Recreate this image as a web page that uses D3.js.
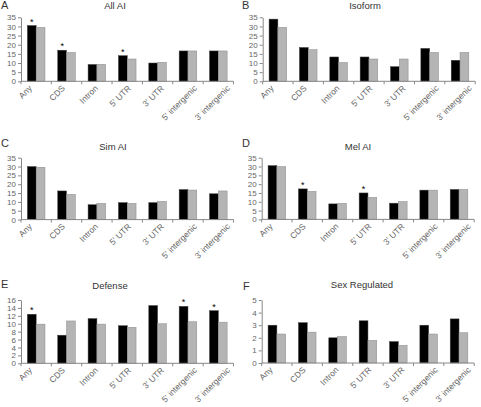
<!DOCTYPE html>
<html><head><meta charset="utf-8">
<script src="https://cdn.jsdelivr.net/npm/d3@7"></script>
<style>
body{margin:0;background:#fff}
svg{display:block}
text{font-family:"Liberation Sans",Arial,sans-serif}
</style>
</head><body>
<svg id="c" width="481" height="407"></svg>
<script>
// ---- data ----
const categories = ["Any","CDS","Intron","5' UTR","3' UTR","5' intergenic","3' intergenic"];

const allAI_black   = [30.5, 17.0, 9.2, 14.0, 10.0, 16.6, 16.6];
const allAI_gray    = [29.5, 15.8, 9.3, 12.2, 10.4, 16.6, 16.6];
const allAI_stars   = [1, 1, 0, 1, 0, 0, 0];

const isoform_black = [34.0, 18.5, 13.3, 13.3, 8.0, 18.0, 11.5];
const isoform_gray  = [29.5, 17.3, 10.3, 12.2, 12.2, 15.8, 15.8];
const isoform_stars = [0, 0, 0, 0, 0, 0, 0];

const simAI_black   = [30.0, 16.2, 8.4, 9.6, 9.6, 17.0, 14.6];
const simAI_gray    = [29.6, 14.3, 9.2, 9.2, 10.3, 16.7, 16.2];
const simAI_stars   = [0, 0, 0, 0, 0, 0, 0];

const melAI_black   = [30.5, 17.3, 8.8, 15.0, 9.2, 16.6, 17.0];
const melAI_gray    = [30.0, 15.9, 9.1, 12.5, 10.1, 16.6, 17.0];
const melAI_stars   = [0, 1, 0, 1, 0, 0, 0];

const defense_black = [12.4, 7.1, 11.3, 9.5, 14.6, 14.4, 13.3];
const defense_gray  = [9.9, 10.7, 9.9, 9.1, 10.0, 10.5, 10.4];
const defense_stars = [1, 0, 0, 0, 0, 1, 1];

const sexReg_black  = [3.0, 3.2, 2.0, 3.35, 1.7, 3.0, 3.5];
const sexReg_gray   = [2.3, 2.45, 2.1, 1.8, 1.4, 2.3, 2.4];
const sexReg_stars  = [0, 0, 0, 0, 0, 0, 0];

const ticks35 = [0, 5, 10, 15, 20, 25, 30, 35];
const ticks16 = [0, 2, 4, 6, 8, 10, 12, 14, 16];
const ticks5  = [0, 1, 2, 3, 4, 5];

const panelLetters = ["A","B","C","D","E","F"];
const panelTitles  = ["All AI","Isoform","Sim AI","Mel AI","Defense","Sex Regulated"];

// ---- layout ----
const layout = [
  {left:21,    top:17.3,  bottom:81.3,  tx:115, ty:9,   lx:1,   ly:9},
  {left:262.7, top:17.3,  bottom:81.3,  tx:365, ty:9,   lx:242, ly:9},
  {left:21,    top:157.7, bottom:219.6, tx:113, ty:150, lx:1,   ly:147},
  {left:261.7, top:157.7, bottom:219.4, tx:358, ty:150, lx:242, ly:147},
  {left:21,    top:300,   bottom:363.3, tx:110, ty:289, lx:1,   ly:288},
  {left:261.7, top:300,   bottom:363,   tx:362, ty:288, lx:243, ly:290}
];
const panelData = [
  {black:allAI_black,   gray:allAI_gray,   stars:allAI_stars,   ticks:ticks35},
  {black:isoform_black, gray:isoform_gray, stars:isoform_stars, ticks:ticks35},
  {black:simAI_black,   gray:simAI_gray,   stars:simAI_stars,   ticks:ticks35},
  {black:melAI_black,   gray:melAI_gray,   stars:melAI_stars,   ticks:ticks35},
  {black:defense_black, gray:defense_gray, stars:defense_stars, ticks:ticks16},
  {black:sexReg_black,  gray:sexReg_gray,  stars:sexReg_stars,  ticks:ticks5}
];

const svg = d3.select("#c");
const W = 212.5;

panelData.forEach((pd, i) => {
  const L = layout[i];
  const g = svg.append("g");
  const y = d3.scaleLinear().domain([0, d3.max(pd.ticks)]).range([L.bottom, L.top]);
  const x0 = d3.scaleBand().domain(categories).range([L.left, L.left + W])
               .paddingInner(0.42).paddingOuter(0.21);
  const x1 = d3.scaleBand().domain(["black","gray"]).range([0, x0.bandwidth()]);
  const xl = d3.scalePoint().domain(categories).range([L.left + 16, L.left + 214]);

  // letter + title
  g.append("text").attr("x", L.lx).attr("y", L.ly).text(panelLetters[i])
    .attr("font-size", 11).attr("fill", "#333");
  g.append("text").attr("x", L.tx).attr("y", L.ty).text(panelTitles[i])
    .attr("font-size", 9.5).attr("text-anchor", "middle").attr("fill", "#333");

  // bars
  const rows = categories.map((c, k) => ({c, b: pd.black[k], gr: pd.gray[k], s: pd.stars[k]}));
  g.selectAll(".bb").data(rows).join("rect")
    .attr("x", d => x0(d.c) + x1("black")).attr("width", x1.bandwidth())
    .attr("y", d => y(d.b)).attr("height", d => y(0) - y(d.b))
    .attr("fill", "#000").attr("stroke", "#444").attr("stroke-width", 0.5);
  g.selectAll(".gb").data(rows).join("rect")
    .attr("x", d => x0(d.c) + x1("gray")).attr("width", x1.bandwidth())
    .attr("y", d => y(d.gr)).attr("height", d => y(0) - y(d.gr))
    .attr("fill", "#b4b4b4").attr("stroke", "#8a8a8a").attr("stroke-width", 0.5);

  // stars
  g.selectAll(".st").data(rows.filter(d => d.s)).join("text")
    .attr("x", d => x0(d.c) + x1("black") + x1.bandwidth() / 2)
    .attr("y", d => y(d.b) - 1)
    .attr("text-anchor", "middle").attr("font-size", 9)
    .style("fill", "#000")
    .text("*");

  // y axis
  const ya = g.append("g").attr("transform", `translate(${L.left},0)`)
    .call(d3.axisLeft(y).tickValues(pd.ticks).tickFormat(d3.format("d"))
          .tickSize(3).tickSizeOuter(0).tickPadding(2));
  ya.select(".domain").attr("stroke", "#888");
  ya.selectAll(".tick line").attr("stroke", "#888");
  ya.selectAll(".tick text").attr("fill", "#666").attr("font-size", 8)
    .attr("font-family", '"Liberation Sans",Arial,sans-serif');

  // x axis
  g.append("line").attr("x1", L.left).attr("x2", L.left + W)
    .attr("y1", L.bottom).attr("y2", L.bottom).attr("stroke", "#888");
  const bounds = categories.map(c => x0(c) - x0.step() * 0.21).concat([L.left + W]);
  g.selectAll(".xt").data(bounds).join("line")
    .attr("x1", d => d).attr("x2", d => d)
    .attr("y1", L.bottom).attr("y2", L.bottom + 3).attr("stroke", "#888");

  g.selectAll(".xl").data(categories).join("text")
    .attr("transform", c => `translate(${xl(c) - 4.5},${L.bottom + 7.5}) rotate(-45)`)
    .attr("text-anchor", "end").attr("font-size", 8.5).attr("fill", "#666")
    .text(c => c);
});
</script>
</body></html>
